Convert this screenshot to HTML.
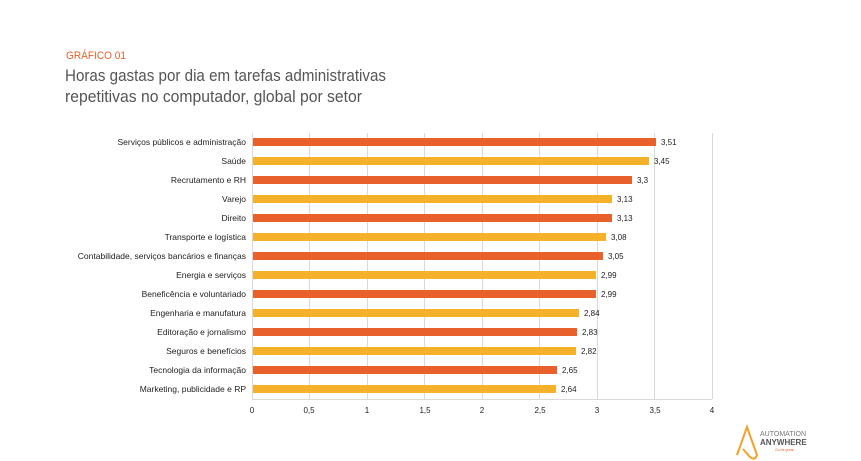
<!DOCTYPE html>
<html><head><meta charset="utf-8"><style>
html,body{margin:0;padding:0;background:#fff;}
svg{display:block;font-family:"Liberation Sans",sans-serif;}
</style></head><body>
<svg width="861" height="461" viewBox="0 0 861 461" xmlns="http://www.w3.org/2000/svg">
<rect width="861" height="461" fill="#fff"/>
<text x="66" y="59" font-size="11" fill="#E2622B" textLength="60" lengthAdjust="spacingAndGlyphs">GRÁFICO 01</text>
<text x="65" y="81" font-size="17" fill="#555" textLength="321" lengthAdjust="spacingAndGlyphs">Horas gastas por dia em tarefas administrativas</text>
<text x="65" y="102" font-size="17" fill="#555" textLength="297" lengthAdjust="spacingAndGlyphs">repetitivas no computador, global por setor</text>
<g stroke="#d9d9d9" stroke-width="1">
<line x1="309.5" y1="133" x2="309.5" y2="399"/>
<line x1="367.5" y1="133" x2="367.5" y2="399"/>
<line x1="424.5" y1="133" x2="424.5" y2="399"/>
<line x1="482.5" y1="133" x2="482.5" y2="399"/>
<line x1="539.5" y1="133" x2="539.5" y2="399"/>
<line x1="597.5" y1="133" x2="597.5" y2="399"/>
<line x1="654.5" y1="133" x2="654.5" y2="399"/>
<line x1="712.5" y1="133" x2="712.5" y2="399"/>
<line x1="252.5" y1="133" x2="252.5" y2="399"/>
<line x1="252" y1="399.5" x2="712" y2="399.5"/>
</g>
<g>
<rect x="253" y="138" width="403" height="8" fill="#E8602C"/>
<rect x="253" y="157" width="396" height="8" fill="#F6B12B"/>
<rect x="253" y="176" width="379" height="8" fill="#E8602C"/>
<rect x="253" y="195" width="359" height="8" fill="#F6B12B"/>
<rect x="253" y="214" width="359" height="8" fill="#E8602C"/>
<rect x="253" y="233" width="353" height="8" fill="#F6B12B"/>
<rect x="253" y="252" width="350" height="8" fill="#E8602C"/>
<rect x="253" y="271" width="343" height="8" fill="#F6B12B"/>
<rect x="253" y="290" width="343" height="8" fill="#E8602C"/>
<rect x="253" y="309" width="326" height="8" fill="#F6B12B"/>
<rect x="253" y="328" width="324" height="8" fill="#E8602C"/>
<rect x="253" y="347" width="323" height="8" fill="#F6B12B"/>
<rect x="253" y="366" width="304" height="8" fill="#E8602C"/>
<rect x="253" y="385" width="303" height="8" fill="#F6B12B"/>
</g>
<g font-size="8.5" fill="#222" text-anchor="end">
<text x="246" y="145">Serviços públicos e administração</text>
<text x="246" y="164">Saúde</text>
<text x="246" y="183">Recrutamento e RH</text>
<text x="246" y="202">Varejo</text>
<text x="246" y="221">Direito</text>
<text x="246" y="240">Transporte e logística</text>
<text x="246" y="259">Contabilidade, serviços bancários e finanças</text>
<text x="246" y="278">Energia e serviços</text>
<text x="246" y="297">Beneficência e voluntariado</text>
<text x="246" y="316">Engenharia e manufatura</text>
<text x="246" y="335">Editoração e jornalismo</text>
<text x="246" y="354">Seguros e benefícios</text>
<text x="246" y="373">Tecnologia da informação</text>
<text x="246" y="392">Marketing, publicidade e RP</text>
</g>
<g font-size="8" fill="#222">
<text x="661" y="145">3,51</text>
<text x="654" y="164">3,45</text>
<text x="637" y="183">3,3</text>
<text x="617" y="202">3,13</text>
<text x="617" y="221">3,13</text>
<text x="611" y="240">3,08</text>
<text x="608" y="259">3,05</text>
<text x="601" y="278">2,99</text>
<text x="601" y="297">2,99</text>
<text x="584" y="316">2,84</text>
<text x="582" y="335">2,83</text>
<text x="581" y="354">2,82</text>
<text x="562" y="373">2,65</text>
<text x="561" y="392">2,64</text>
</g>
<g font-size="8" fill="#222" text-anchor="middle">
<text x="252" y="413">0</text><text x="309" y="413">0,5</text><text x="367" y="413">1</text><text x="425" y="413">1,5</text><text x="482" y="413">2</text><text x="540" y="413">2,5</text><text x="597" y="413">3</text><text x="655" y="413">3,5</text><text x="712" y="413">4</text>
</g>
<g transform="translate(735,425)">
<path d="M2 30 L12 2 L22 30 Q20 36 15 32 L8 24" fill="none" stroke="#F2A12B" stroke-width="2"/>
<text x="25" y="11" font-size="7" fill="#777">AUTOMATION</text>
<text x="25" y="20" font-size="8" font-weight="bold" fill="#555">ANYWHERE</text>
<text x="40" y="26" font-size="3.5" fill="#E8602C">Go be great.</text>
</g>
</svg>
</body></html>
